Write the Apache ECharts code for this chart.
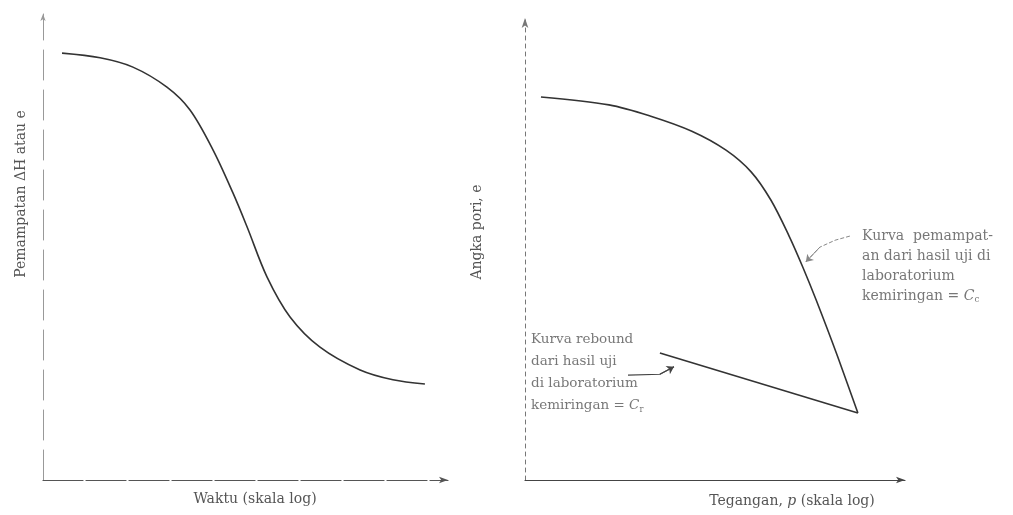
<!DOCTYPE html>
<html>
<head>
<meta charset="utf-8">
<script src="https://cdn.jsdelivr.net/npm/echarts@6/dist/echarts.min.js"></script>
<style>html,body{margin:0;padding:0;background:#fff}#c{width:1013px;height:515px}</style>
</head>
<body>
<div id="c"></div>
<script>
// Left panel: consolidation vs log time (arbitrary units 0-100)
const timeLogX = [4.7, 14.1, 22.2, 30.6, 36.3, 42.0, 46.9, 50.4, 55.3, 61.0, 68.4, 78.3, 86.4, 94.3];
const compressionY = [91.6, 90.6, 88.6, 84.3, 79.4, 70.8, 61.6, 54.3, 43.6, 35.0, 28.5, 23.6, 21.5, 20.6];

// Right panel: void ratio vs log pressure (arbitrary units 0-100)
const pressureLogX = [4.2, 22.1, 32.9, 43.9, 52.9, 59.5, 64.7, 69.5, 73.2, 76.6, 82.1, 87.6];
const voidRatioY = [82.9, 81.2, 78.8, 75.5, 71.4, 66.7, 60.6, 52.8, 45.9, 39.0, 27.1, 14.5];
const reboundX = [35.5, 87.6];
const reboundY = [27.5, 14.5];

// Annotation pointers (data units)
const compPointerX = [85.5, 81.6, 77.6, 73.9];
const compPointerY = [52.8, 51.9, 50.4, 47.2];
const rebPointerX = [27.1, 35.5, 39.2];
const rebPointerY = [22.7, 22.9, 24.5];

// Annotation anchors (data units)
const compLabelAt = [88.7, 55.0];
const rebLabelAt = [1.6, 32.7];

const leftYTitle = 'Pemampatan ΔH atau e';
const leftXTitle = 'Waktu (skala log)';
const rightYTitle = 'Angka pori, e';
const rightXTitle = 'Tegangan, {i|p} (skala log)';
const compLabel = ['Kurva  pemampat-', 'an dari hasil uji di', 'laboratorium', 'kemiringan = {i|C}{s|c}'];
const rebLabel = ['Kurva rebound', 'dari hasil uji', 'di laboratorium', 'kemiringan = {i|C}{s|r}'];

const zip = (a, b) => a.map((v, i) => [v, b[i]]);
const FONT = 'DejaVu Serif';
const TXT = '#555';
const LINE = '#333';

const chart = echarts.init(document.getElementById('c'), null, {renderer: 'canvas'});

function axisBase(gridIndex, opts) {
  return Object.assign({
    type: 'value', gridIndex, min: 0, max: 100,
    axisTick: {show: false}, axisLabel: {show: false}, splitLine: {show: false}
  }, opts);
}

function rich(size) {
  return {
    i: {fontFamily: FONT, fontStyle: 'italic', fontSize: size, color: TXT},
    s: {fontFamily: FONT, fontSize: size * 0.62, color: TXT, padding: [size * 0.6, 0, 0, 0]}
  };
}

// Smooth curve drawn through the data points (converted by the axes)
function smoothCurve(gridIdx, xs, ys) {
  const pts = zip(xs, ys);
  return {
    type: 'custom', xAxisIndex: gridIdx, yAxisIndex: gridIdx, silent: true,
    data: pts,
    encode: {x: 0, y: 1},
    renderItem: function (params, api) {
      if (params.dataIndex !== 0) return null;
      const points = pts.map(p => api.coord(p));
      return {
        type: 'polyline',
        shape: {points: points, smooth: 0.33},
        style: {stroke: LINE, lineWidth: 1.6, fill: null}
      };
    }
  };
}

function pointer(xs, ys, style) {
  const n = xs.length;
  return [
    {type: 'lines', coordinateSystem: 'cartesian2d', xAxisIndex: 1, yAxisIndex: 1, polyline: true,
      symbol: 'none', silent: true, lineStyle: Object.assign({opacity: 1, curveness: 0}, style),
      data: [{coords: zip(xs, ys)}]},
    {type: 'lines', coordinateSystem: 'cartesian2d', xAxisIndex: 1, yAxisIndex: 1,
      symbol: ['none', 'arrow'], symbolSize: 7, silent: true,
      lineStyle: Object.assign({opacity: 1, curveness: 0}, style, {type: 'solid'}),
      data: [{coords: [[xs[n - 2], ys[n - 2]], [xs[n - 1], ys[n - 1]]]}]}
  ];
}

chart.setOption({
  animation: false,
  backgroundColor: '#fff',
  grid: [
    {left: 43, top: 14, width: 405, height: 466},
    {left: 525, top: 18, width: 380, height: 462}
  ],
  xAxis: [
    axisBase(0, {axisLine: {show: true, symbol: ['none', 'arrow'], symbolSize: [5, 9],
      lineStyle: {color: '#555', width: 1.2, type: [40, 3]}}}),
    axisBase(1, {axisLine: {show: true, symbol: ['none', 'arrow'], symbolSize: [5, 9],
      lineStyle: {color: '#444', width: 1.2}}})
  ],
  yAxis: [
    axisBase(0, {axisLine: {show: true, symbol: ['none', 'arrow'], symbolSize: [4, 7],
      lineStyle: {color: '#999', width: 1, type: [30, 10]}}}),
    axisBase(1, {axisLine: {show: true, symbol: ['none', 'arrow'], symbolSize: [5, 10],
      lineStyle: {color: '#777', width: 1, type: [4, 4]}}})
  ],
  series: [
    smoothCurve(0, timeLogX, compressionY),
    smoothCurve(1, pressureLogX, voidRatioY),
    {type: 'line', xAxisIndex: 1, yAxisIndex: 1, data: zip(reboundX, reboundY),
      showSymbol: false, silent: true, lineStyle: {color: LINE, width: 1.6}},
    ...pointer(compPointerX, compPointerY, {color: '#888', width: 1, type: [4, 2]}),
    ...pointer(rebPointerX, rebPointerY, {color: '#444', width: 1.1}),
    {type: 'scatter', xAxisIndex: 1, yAxisIndex: 1, symbolSize: 0, silent: true,
      data: [compLabelAt],
      label: {show: true, position: [0, 0], align: 'left', verticalAlign: 'top',
        formatter: compLabel.join('\n'), fontFamily: FONT, fontSize: 14, lineHeight: 20, color: TXT,
        rich: rich(14)}},
    {type: 'scatter', xAxisIndex: 1, yAxisIndex: 1, symbolSize: 0, silent: true,
      data: [rebLabelAt],
      label: {show: true, position: [0, 0], align: 'left', verticalAlign: 'top',
        formatter: rebLabel.join('\n'), fontFamily: FONT, fontSize: 13.5, lineHeight: 22, color: TXT,
        rich: rich(13.5)}}
  ],
  graphic: [
    {type: 'text', x: 21, y: 194, rotation: Math.PI / 2, style: {text: leftYTitle, font: '14px "DejaVu Serif"', fill: TXT, align: 'center', verticalAlign: 'middle'}},
    {type: 'text', x: 255, y: 499, style: {text: leftXTitle, font: '14px "DejaVu Serif"', fill: TXT, align: 'center', verticalAlign: 'middle'}},
    {type: 'text', x: 477, y: 232, rotation: Math.PI / 2, style: {text: rightYTitle, font: '14px "DejaVu Serif"', fill: TXT, align: 'center', verticalAlign: 'middle'}},
    {type: 'text', x: 792, y: 501, style: {text: rightXTitle, font: '14px "DejaVu Serif"', fill: TXT, align: 'center', verticalAlign: 'middle',
      rich: {i: {font: 'italic 14px "DejaVu Serif"', fill: TXT}}}}
  ]
});
</script>
</body>
</html>
